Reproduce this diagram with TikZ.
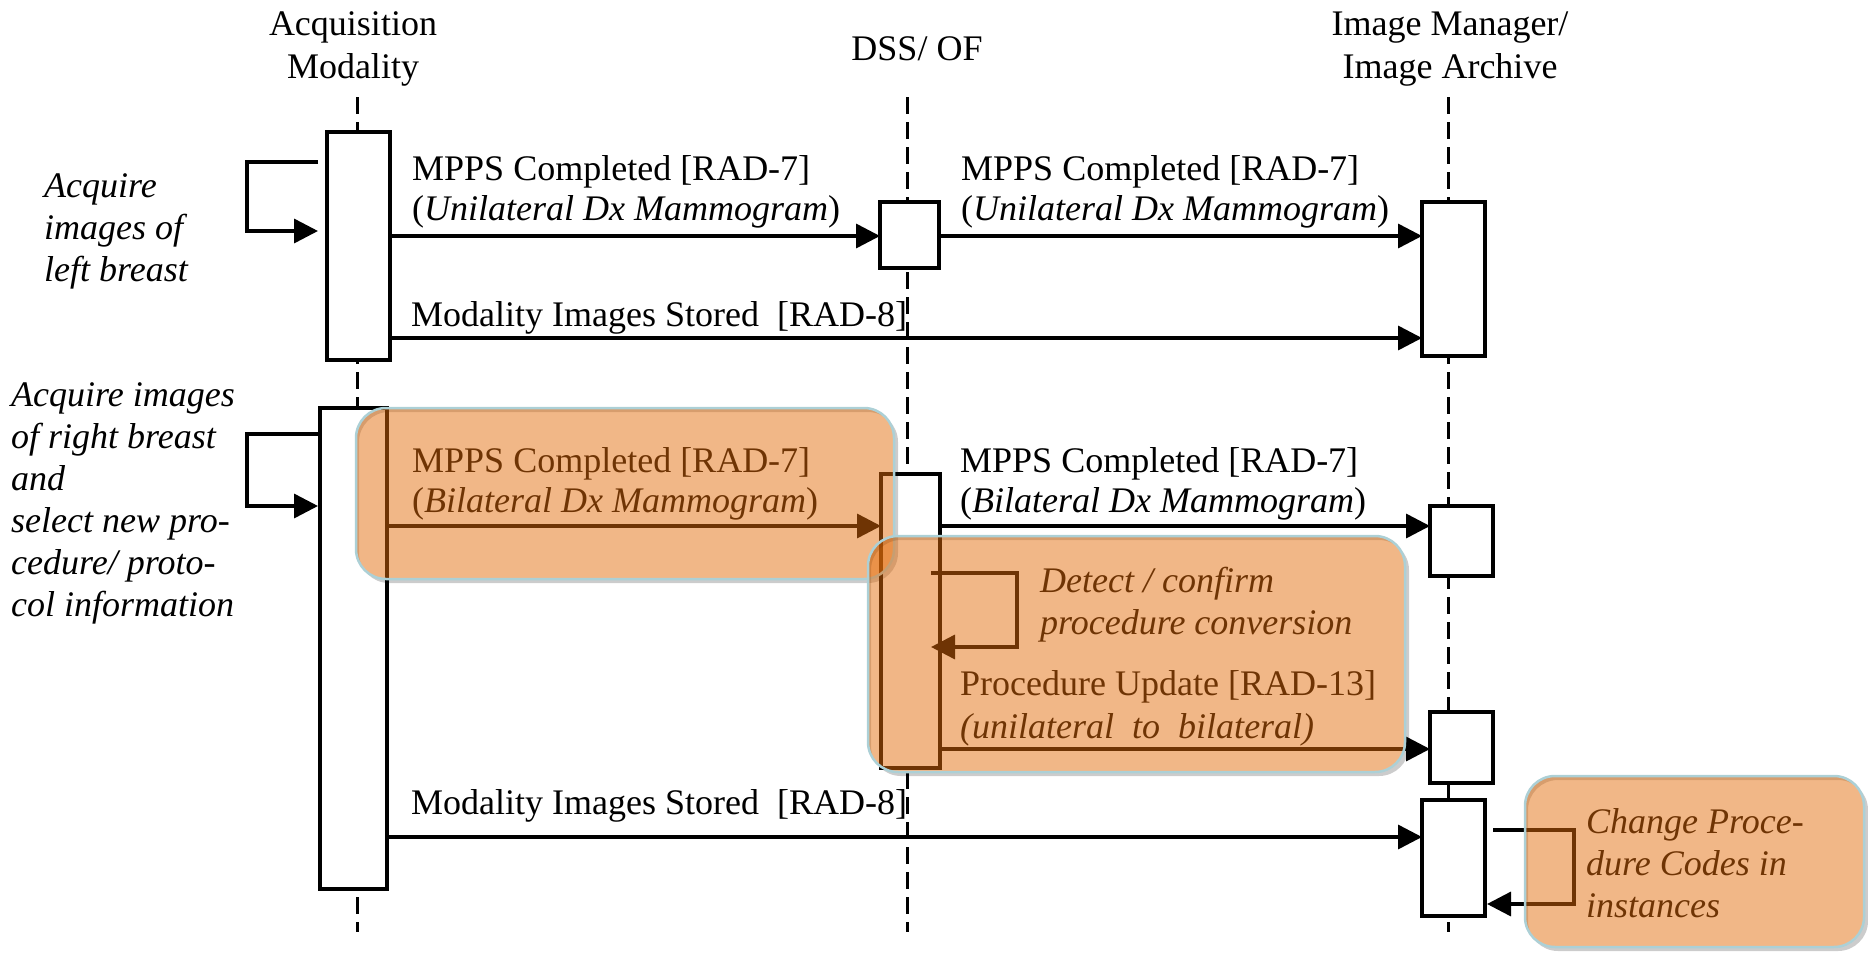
\documentclass[tikz,border=0pt]{standalone}
\usepackage{fontspec}
\setmainfont{Liberation Serif}
\usetikzlibrary{arrows.meta,calc}
\definecolor{ovl}{RGB}{227,108,10}
\definecolor{ovlborder}{RGB}{172,208,214}
\begin{document}
\begin{tikzpicture}[x=1pt,y=-1pt,
  life/.style={line width=3pt, dash pattern=on 17pt off 8pt},
  act/.style={draw, line width=4pt, fill=white, inner sep=0pt, outer sep=0pt},
  msg/.style={line width=3.5pt, -{Triangle[length=24pt,width=24pt]}},
  txt/.style={inner sep=0pt, anchor=base west, align=left, font=\fontsize{36}{40}\selectfont},
  itxt/.style={txt, font=\fontsize{36}{42}\selectfont\itshape},
  ttl/.style={inner sep=0pt, anchor=base, align=center, font=\fontsize{36}{43}\selectfont},
  hl/.style={fill=ovl, fill opacity=0.49, draw=ovlborder, line width=2.5pt, rounded corners=30pt},
  shd/.style={fill=black, fill opacity=0.2, even odd rule, rounded corners=30pt}]

\useasboundingbox (0,0) rectangle (1868,953);

% lifelines
\coordinate (L1t) at (357,97); \coordinate (L1b) at (357,932);
\coordinate (L2t) at (907,97); \coordinate (L2b) at (907,932);
\coordinate (L3t) at (1448,97); \coordinate (L3b) at (1448,932);
\draw[life] (L1t) -- (L1b);
\draw[life] (L2t) -- (L2b);
\draw[life] (L3t) -- (L3b);

% titles (anchor = baseline of last line)
\node[ttl] (T1) at (353,78) {Acquisition\\Modality};
\node[ttl] (T2) at (917,60) {DSS/ OF};
\node[ttl] (T3) at (1450,78) {Image Manager/\\Image Archive};

% activation boxes
\node[act, minimum width=63pt, minimum height=228pt] (A1) at (358.5,246) {};
\node[act, minimum width=67pt, minimum height=481pt] (A2) at (353.5,648.5) {};
\node[act, minimum width=59pt, minimum height=66pt] (D1) at (909.5,235) {};
\node[act, minimum width=59pt, minimum height=294pt] (D2) at (910.5,621) {};
\node[act, minimum width=63pt, minimum height=154pt] (I1) at (1453.5,279) {};
\node[act, minimum width=63pt, minimum height=70pt] (I2) at (1461.5,541) {};
\node[act, minimum width=63pt, minimum height=71pt] (I3) at (1461.5,747.5) {};
\node[act, minimum width=63pt, minimum height=116pt] (I4) at (1453.5,858) {};
\draw[line width=3pt] (I3.south -| L3t) -- (I4.north -| L3t);

% message levels
\coordinate (y1) at (0,236);
\coordinate (y3) at (0,338);
\coordinate (y4) at (0,526);
\coordinate (y7) at (0,749);
\coordinate (y8) at (0,837);

% messages
\draw[msg] (A1.east |- y1) -- (D1.west |- y1);
\draw[msg] (D1.east |- y1) -- (I1.west |- y1);
\draw[msg] (A1.east |- y3) -- (I1.west |- y3);
\draw[msg] (A2.east |- y4) -- (D2.west |- y4);
\draw[msg] (D2.east |- y4) -- (I2.west |- y4);
\draw[msg] (D2.east |- y7) -- (I3.west |- y7);
\draw[msg] (A2.east |- y8) -- (I4.west |- y8);

% self loops
\coordinate (s1a) at (318,162); \coordinate (s1b) at (318,231);
\draw[msg] (s1a) -- ++(-71,0) |- (s1b);
\coordinate (s2a) at (318,434); \coordinate (s2b) at (318,506);
\draw[msg] (s2a) -- ++(-71,0) |- (s2b);
\coordinate (s3a) at (931,573); \coordinate (s3b) at (931,647);
\draw[msg] (s3a) -- ++(86,0) |- (s3b);
\coordinate (s4a) at (1493,830); \coordinate (s4b) at (1487,904);
\draw[msg] (s4a) -- ++(81,0) |- (s4b);

% labels (anchor = baseline of last line)
\node[txt] (m1) at (412,220) {MPPS Completed [RAD-7]\\(\textit{Unilateral Dx Mammogram})};
\node[txt] (m2) at (961,220) {MPPS Completed [RAD-7]\\(\textit{Unilateral Dx Mammogram})};
\node[txt] (m3) at (411,326) {Modality Images Stored~ [RAD-8]};
\node[txt] (m4) at (412,512) {MPPS Completed [RAD-7]\\(\textit{Bilateral Dx Mammogram})};
\node[txt] (m5) at (960,512) {MPPS Completed [RAD-7]\\(\textit{Bilateral Dx Mammogram})};
\node[itxt] (m6) at (1040,634) {Detect / confirm\\procedure conversion};
\node[txt] (m7) at (960,738) {Procedure Update [RAD-13]\\[3pt]\textit{(unilateral~ to~ bilateral)}};
\node[txt] (m8) at (411,814) {Modality Images Stored~ [RAD-8]};
\node[itxt] (m9) at (1586,917) {Change Proce-\\dure Codes in\\instances};
\node[itxt] (n1) at (44,281) {Acquire\\images of\\left breast};
\node[itxt] (n2) at (11,616) {Acquire images\\of right breast\\and\\select new pro-\\cedure/ proto-\\col information};

% highlight overlays
\fill[shd] (359,412) rectangle (898,583) (356,408) rectangle (894,579);
\draw[hl] (356,408) rectangle (894,579);
\fill[shd] (871,540) rectangle (1409,776) (868,536) rectangle (1405,772);
\draw[hl] (868,536) rectangle (1405,772);
\fill[shd] (1528,780) rectangle (1868,951) (1525,776) rectangle (1864,947);
\draw[hl] (1525,776) rectangle (1864,947);
\end{tikzpicture}
\end{document}
